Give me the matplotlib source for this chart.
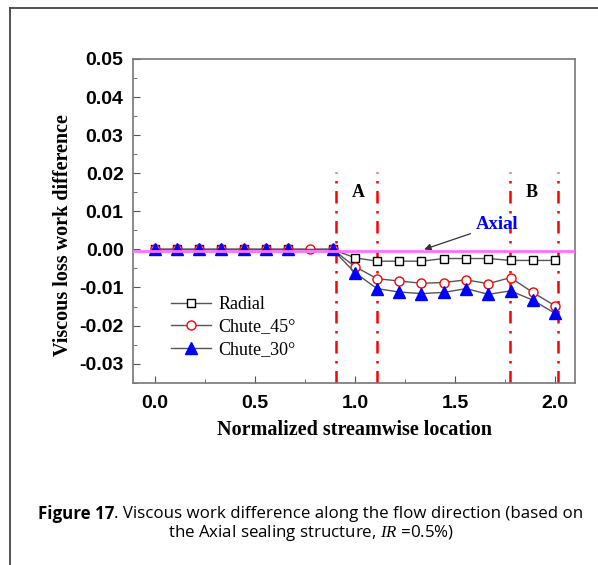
import numpy as np
import matplotlib
matplotlib.use("Agg")
import matplotlib.pyplot as plt
from matplotlib.lines import Line2D
from matplotlib.ticker import MultipleLocator

plt.rcParams['mathtext.fontset'] = 'custom'
plt.rcParams['mathtext.it'] = 'Liberation Serif:italic'
plt.rcParams['mathtext.rm'] = 'Open Sans'

# streamwise positions (normalized)
xLoc = [0.0, 0.111, 0.222, 0.333, 0.444, 0.556, 0.667, 0.778, 0.889,
        1.0, 1.111, 1.222, 1.333, 1.444, 1.556, 1.667, 1.778, 1.889, 2.0]

# viscous loss work difference relative to the Axial seal
radial = [0, 0, 0, 0, 0, 0, 0, np.nan, 0,
          -0.0022, -0.0031, -0.0031, -0.0031, -0.0024, -0.0024, -0.0024,
          -0.0029, -0.0029, -0.0029]
chute45 = [0, 0, 0, 0, 0, 0, 0, 0, 0,
           -0.0045, -0.0077, -0.0083, -0.0089, -0.0087, -0.0080, -0.0090,
           -0.0074, -0.0113, -0.0148]
chute30 = [0, 0, 0, 0, 0, 0, 0, np.nan, 0,
           -0.0061, -0.0103, -0.0112, -0.0116, -0.0113, -0.0103, -0.0118,
           -0.0109, -0.0133, -0.0168]
axialLevel = -0.0004

# zone boundaries (A and B)
zoneLines = [0.904, 1.11, 1.774, 2.015]
zoneLabels = ["A", "B"]
zoneLabelX = [1.015, 1.883]

yTicks = [-0.03, -0.02, -0.01, 0.00, 0.01, 0.02, 0.03, 0.04, 0.05]
xTicks = [0.0, 0.5, 1.0, 1.5, 2.0]

fig = plt.figure(figsize=(5.98, 5.65), dpi=100)
ax = fig.add_axes([0.2229, 0.3227, 0.9615 - 0.2229, 0.8956 - 0.3227])

xArr = np.array(xLoc)
series = [
  (radial, 's', 'white', 'black', 5.5, 'Radial'),
  (chute45, 'o', 'white', 'red', 6.5, 'Chute_45°'),
  (chute30, '^', 'blue', 'blue', 8, 'Chute_30°'),
]
handles = []
for vals, mk, fc, ec, ms, lab in series:
  v = np.array(vals, dtype=float)
  m = ~np.isnan(v)
  ax.plot(xArr[m], v[m], color='#555555', lw=1.0, marker=mk, ms=ms,
          mfc=fc, mec=ec, mew=1.0, zorder=3)
  handles.append(Line2D([], [], color='#555555', lw=1.0, marker=mk, ms=ms,
                        mfc=fc, mec=ec, mew=1.0, label=lab))

ax.axhline(axialLevel, color='#ff70ff', lw=2, zorder=4)

for xl in zoneLines:
  ax.plot([xl, xl], [-0.035, 0.0202], color='red', lw=1.8,
          linestyle=(0, (5, 3, 1, 3)), zorder=2)
for lab, xl in zip(zoneLabels, zoneLabelX):
  ax.text(xl, 0.0149, lab, fontsize=13, fontweight='bold',
          family='Liberation Serif', ha='center', va='center')

ax.annotate("Axial", xy=(1.346, 0.0), xytext=(1.605, 0.0065),
            fontsize=13.5, fontweight='bold', family='Liberation Serif',
            color='blue', ha='left', va='center',
            arrowprops=dict(arrowstyle='-|>', color='#333333', lw=0.9,
                            mutation_scale=10, shrinkA=2, shrinkB=0))

ax.set_xlim(-0.107, 2.1)
ax.set_ylim(-0.035, 0.05)
ax.set_xticks(xTicks)
ax.set_yticks(yTicks)
ax.set_xticklabels(["%.1f" % t for t in xTicks])
ax.set_yticklabels(["%.2f" % t for t in yTicks])
ax.xaxis.set_minor_locator(MultipleLocator(0.25))
ax.yaxis.set_minor_locator(MultipleLocator(0.005))
ax.tick_params(which='both', direction='in', top=False, right=False,
               color='#555555')
ax.tick_params(which='major', length=5, labelsize=14)
ax.tick_params(which='minor', length=3)
ax.tick_params(axis='y', pad=7)
ax.tick_params(axis='x', pad=9)
for lbl in ax.get_xticklabels() + ax.get_yticklabels():
  lbl.set_fontweight('bold')
  lbl.set_family('Liberation Sans')
for sp in ax.spines.values():
  sp.set_color('#777777')
  sp.set_linewidth(1.2)

ax.set_xlabel("Normalized streamwise location", fontsize=14.5,
              fontweight='bold', family='Liberation Serif')
ax.set_ylabel("Viscous loss work difference", fontsize=14.5,
              fontweight='bold', family='Liberation Serif')
ax.xaxis.set_label_coords(0.5, -0.114)
ax.yaxis.set_label_coords(-0.137, 0.456)

leg = ax.legend(handles=handles, loc='upper left',
                bbox_to_anchor=(0.07, 0.29), frameon=False,
                prop={'family': 'Liberation Serif', 'size': 13},
                handlelength=2.2, handletextpad=0.4, labelspacing=0.3,
                borderaxespad=0)

# outer frame
fig.add_artist(Line2D([9.5 / 598, 9.5 / 598], [0, 1 - 7.5 / 565],
                      color='#444444', lw=1.3, transform=fig.transFigure))
fig.add_artist(Line2D([9.5 / 598, 1], [1 - 7.5 / 565, 1 - 7.5 / 565],
                      color='#444444', lw=1.3, transform=fig.transFigure))

# caption
fig.canvas.draw()
r = fig.canvas.get_renderer()
t1 = fig.text(38 / 598, 1 - 514 / 565, "Figure 17", fontsize=12.2,
              fontweight='bold', family='Open Sans', va='center')
bb = t1.get_window_extent(renderer=r)
fig.text(bb.x1 / fig.bbox.width, 1 - 514 / 565,
         ". Viscous work difference along the flow direction (based on",
         fontsize=12.2, family='Open Sans', va='center')
fig.text(0.5 + 12 / 598, 1 - 533 / 565,
         "the Axial sealing structure, $IR$ =0.5%)",
         fontsize=12.2, family='Open Sans', va='center', ha='center')

fig.savefig("out.png", dpi=100)
